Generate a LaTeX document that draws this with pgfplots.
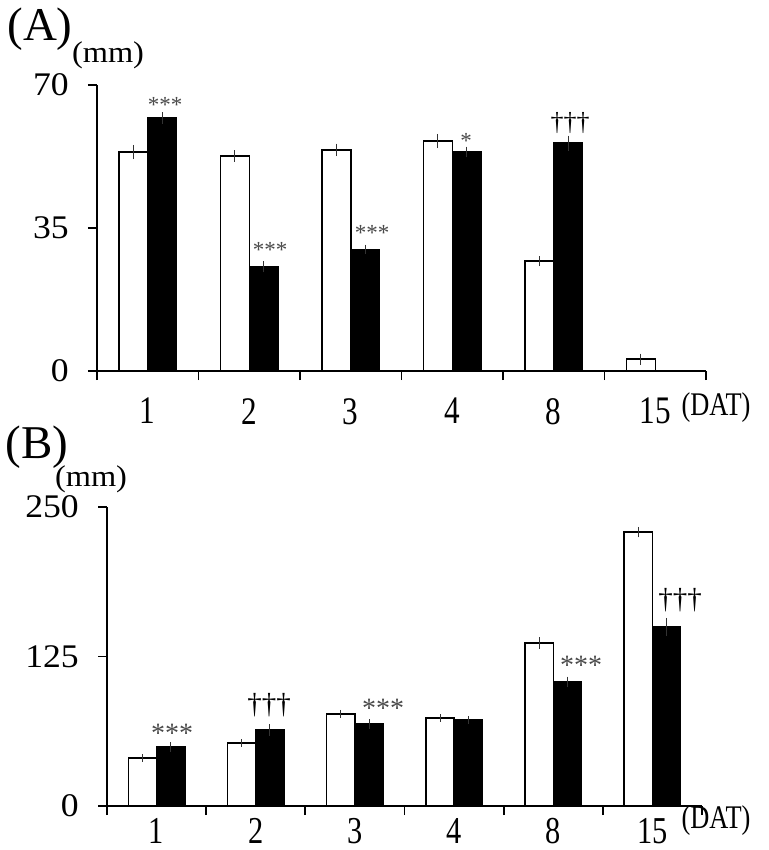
\documentclass[border=0pt]{standalone}
\usepackage{pgfplots}
\pgfplotsset{compat=1.18}
\usepackage{fontspec}
\setmainfont{Liberation Serif}
\newfontfamily\xlab[FakeStretch=0.8]{Liberation Serif}
\newfontfamily\ylab[FakeStretch=1.08]{Liberation Serif}
\definecolor{astgray}{HTML}{4A4A4A}
\begin{document}
\begin{tikzpicture}
\path[use as bounding box] (0,0) rectangle (769bp,-850bp);
\pgfplotsset{
  panel/.style={
    scale only axis,
    xmin=0, xmax=6, ymin=0,
    axis x line=bottom, axis y line=left,
    axis line style={-, line width=1.8bp, black},
    xtick={0,1,2,3,4,5,6},
    x tick label as interval,
    xticklabels={1,2,3,4,8,15},
    tick align=outside,
    major tick length=9bp,
    tick style={line width=1.8bp, black},
    yticklabel style={font=\ylab\fontsize{33bp}{33bp}\selectfont, inner sep=0pt, xshift=-19bp},
    ybar=0pt, bar width=0.285,
    error bars/y dir=both, error bars/y explicit,
    error bars/error bar style={line width=0.9bp, color=black!80},
    error bars/error mark options={line width=0.9bp, mark size=3bp, color=black!80},
  },
  wbar/.style={draw=black, fill=white, line width=1.5bp},
  bbar/.style={draw=black, fill=black, line width=1.5bp},
}
% ---------- Panel A ----------
\begin{axis}[panel, at={(97bp,-371bp)}, anchor=south west,
  width=609bp, height=286bp, ymax=70,
  ytick={0,35,70}, yticklabels={0,35,70},
  xticklabel style={font=\xlab\fontsize{39bp}{39bp}\selectfont, inner sep=0pt, yshift=-18bp}]
\addplot[wbar] table[x=x, y=y, y error=e] {
x y e
0.5 53.6 1.0
1.5 52.6 0.7
2.5 54.1 0.8
3.5 56.3 1.0
4.5 26.9 0.5
5.5 2.9 0.6
};
\addplot[bbar] table[x=x, y=y, y error=e] {
x y e
0.5 61.9 0.7
1.5 25.5 0.6
2.5 29.8 0.4
3.5 53.6 0.6
4.5 55.8 1.1
};
\end{axis}
% ---------- Panel B ----------
\begin{axis}[panel, at={(107bp,-806bp)}, anchor=south west,
  width=595bp, height=299bp, ymax=250,
  ytick={0,125,250}, yticklabels={0,125,250},
  xticklabel style={font=\xlab\fontsize{38bp}{38bp}\selectfont, inner sep=0pt, yshift=-3bp}]
\addplot[wbar] table[x=x, y=y, y error=e] {
x y e
0.5 40.1 0.7
1.5 52.7 0.5
2.5 77.0 0.8
3.5 73.6 0.7
4.5 136.3 2.5
5.5 229.0 1.8
};
\addplot[bbar] table[x=x, y=y, y error=e] {
x y e
0.5 49.3 1.5
1.5 63.5 2.2
2.5 68.6 1.3
3.5 71.9 0.8
4.5 103.7 2.0
5.5 149.7 5.0
};
\end{axis}
% ---------- labels ----------
\node[inner sep=0pt, font=\fontsize{47bp}{47bp}\selectfont] at (40bp,-29bp) {(A)};
\node[inner sep=0pt, font=\ylab\fontsize{30bp}{30bp}\selectfont] at (108bp,-55bp) {(mm)};
\node[inner sep=0pt, font=\xlab\fontsize{33bp}{33bp}\selectfont] at (716bp,-408bp) {(DAT)};
\node[inner sep=0pt, font=\fontsize{47bp}{47bp}\selectfont] at (37bp,-447bp) {(B)};
\node[inner sep=0pt, font=\ylab\fontsize{30bp}{30bp}\selectfont] at (91bp,-479bp) {(mm)};
\node[inner sep=0pt, font=\xlab\fontsize{33bp}{33bp}\selectfont] at (716bp,-821bp) {(DAT)};
% significance marks, panel A
\begin{scope}[every node/.style={inner sep=0pt}]
\node[text=astgray, font=\fontsize{23bp}{23bp}\selectfont, yshift=-3bp] at (165bp,-102bp) {***};
\node[text=astgray, font=\fontsize{23bp}{23bp}\selectfont, yshift=-3bp] at (270bp,-247bp) {***};
\node[text=astgray, font=\fontsize{23bp}{23bp}\selectfont, yshift=-3bp] at (372bp,-230bp) {***};
\node[text=astgray, font=\fontsize{23bp}{23bp}\selectfont, yshift=-3bp] at (466bp,-138bp) {*};
\node[font=\fontsize{26bp}{26bp}\selectfont] at (570bp,-123bp) {\textdagger\textdagger\textdagger};
% panel B
\node[text=astgray, font=\fontsize{28bp}{28bp}\selectfont, yshift=-3bp] at (172bp,-730bp) {***};
\node[font=\fontsize{29bp}{29bp}\selectfont] at (269bp,-705bp) {\textdagger\textdagger\textdagger};
\node[text=astgray, font=\fontsize{28bp}{28bp}\selectfont, yshift=-3bp] at (383bp,-705bp) {***};
\node[text=astgray, font=\fontsize{28bp}{28bp}\selectfont, yshift=-3bp] at (581bp,-662bp) {***};
\node[font=\fontsize{29bp}{29bp}\selectfont] at (680bp,-600bp) {\textdagger\textdagger\textdagger};
\end{scope}
\end{tikzpicture}
\end{document}
